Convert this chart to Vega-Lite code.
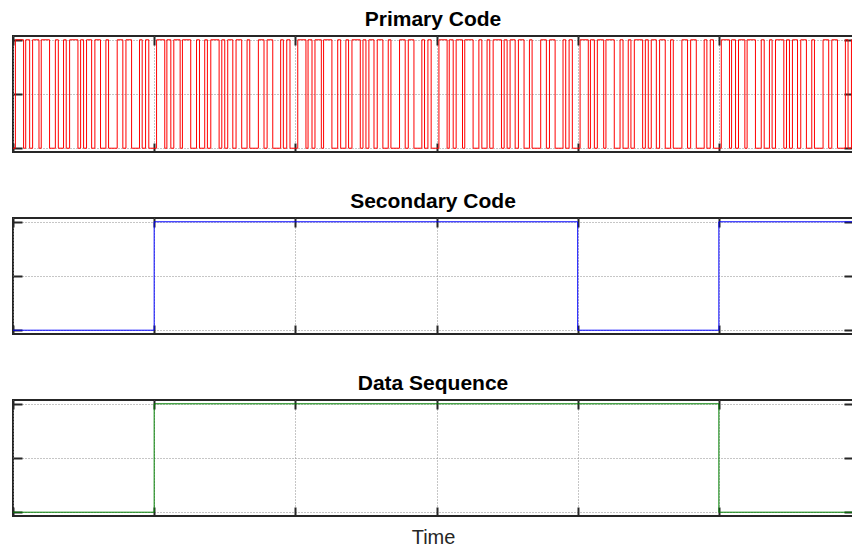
{
  "$schema": "https://vega.github.io/schema/vega-lite/v6.json",
  "padding": {"left": 11, "right": 0, "top": 8, "bottom": 0},
  "autosize": {"type": "pad"},
  "background": "white",
  "config": {
    "font": "Liberation Sans",
    "view": {"stroke": "#262626", "strokeWidth": 2},
    "axis": {"labels": false, "domain": false, "tickSize": -9, "tickWidth": 2, "tickColor": "#262626", "gridColor": "#8c8c8c", "gridDash": [1, 2], "gridWidth": 1},
    "title": {"font": "Liberation Sans", "fontSize": 21, "fontWeight": "bold", "color": "#000000", "offset": 5}
  },
  "spacing": 36,
  "datasets": {
    "primary": [
      {"t":0,"v":-1},
      {"t":0.017,"v":1},{"t":0.075,"v":-1},{"t":0.09,"v":1},{"t":0.118,"v":-1},{"t":0.139,"v":1},{"t":0.184,"v":-1},{"t":0.2,"v":1},{"t":0.259,"v":-1},{"t":0.3,"v":1},{"t":0.321,"v":-1},{"t":0.358,"v":1},{"t":0.377,"v":-1},{"t":0.401,"v":1},{"t":0.46,"v":-1},{"t":0.479,"v":1},{"t":0.5,"v":-1},{"t":0.521,"v":1},{"t":0.557,"v":-1},{"t":0.58,"v":1},{"t":0.62,"v":-1},{"t":0.658,"v":1},{"t":0.677,"v":-1},{"t":0.738,"v":1},{"t":0.778,"v":-1},{"t":0.8,"v":1},{"t":0.84,"v":-1},{"t":0.896,"v":1},{"t":0.915,"v":-1},{"t":0.939,"v":1},{"t":0.962,"v":-1},
      {"t":1.017,"v":1},{"t":1.075,"v":-1},{"t":1.09,"v":1},{"t":1.118,"v":-1},{"t":1.139,"v":1},{"t":1.184,"v":-1},{"t":1.2,"v":1},{"t":1.259,"v":-1},{"t":1.3,"v":1},{"t":1.321,"v":-1},{"t":1.358,"v":1},{"t":1.377,"v":-1},{"t":1.401,"v":1},{"t":1.46,"v":-1},{"t":1.479,"v":1},{"t":1.5,"v":-1},{"t":1.521,"v":1},{"t":1.557,"v":-1},{"t":1.58,"v":1},{"t":1.62,"v":-1},{"t":1.658,"v":1},{"t":1.677,"v":-1},{"t":1.738,"v":1},{"t":1.778,"v":-1},{"t":1.8,"v":1},{"t":1.84,"v":-1},{"t":1.896,"v":1},{"t":1.915,"v":-1},{"t":1.939,"v":1},{"t":1.962,"v":-1},
      {"t":2.017,"v":1},{"t":2.075,"v":-1},{"t":2.09,"v":1},{"t":2.118,"v":-1},{"t":2.139,"v":1},{"t":2.184,"v":-1},{"t":2.2,"v":1},{"t":2.259,"v":-1},{"t":2.3,"v":1},{"t":2.321,"v":-1},{"t":2.358,"v":1},{"t":2.377,"v":-1},{"t":2.401,"v":1},{"t":2.46,"v":-1},{"t":2.479,"v":1},{"t":2.5,"v":-1},{"t":2.521,"v":1},{"t":2.557,"v":-1},{"t":2.58,"v":1},{"t":2.62,"v":-1},{"t":2.658,"v":1},{"t":2.677,"v":-1},{"t":2.738,"v":1},{"t":2.778,"v":-1},{"t":2.8,"v":1},{"t":2.84,"v":-1},{"t":2.896,"v":1},{"t":2.915,"v":-1},{"t":2.939,"v":1},{"t":2.962,"v":-1},
      {"t":3.017,"v":1},{"t":3.075,"v":-1},{"t":3.09,"v":1},{"t":3.118,"v":-1},{"t":3.139,"v":1},{"t":3.184,"v":-1},{"t":3.2,"v":1},{"t":3.259,"v":-1},{"t":3.3,"v":1},{"t":3.321,"v":-1},{"t":3.358,"v":1},{"t":3.377,"v":-1},{"t":3.401,"v":1},{"t":3.46,"v":-1},{"t":3.479,"v":1},{"t":3.5,"v":-1},{"t":3.521,"v":1},{"t":3.557,"v":-1},{"t":3.58,"v":1},{"t":3.62,"v":-1},{"t":3.658,"v":1},{"t":3.677,"v":-1},{"t":3.738,"v":1},{"t":3.778,"v":-1},{"t":3.8,"v":1},{"t":3.84,"v":-1},{"t":3.896,"v":1},{"t":3.915,"v":-1},{"t":3.939,"v":1},{"t":3.962,"v":-1},
      {"t":4.017,"v":1},{"t":4.075,"v":-1},{"t":4.09,"v":1},{"t":4.118,"v":-1},{"t":4.139,"v":1},{"t":4.184,"v":-1},{"t":4.2,"v":1},{"t":4.259,"v":-1},{"t":4.3,"v":1},{"t":4.321,"v":-1},{"t":4.358,"v":1},{"t":4.377,"v":-1},{"t":4.401,"v":1},{"t":4.46,"v":-1},{"t":4.479,"v":1},{"t":4.5,"v":-1},{"t":4.521,"v":1},{"t":4.557,"v":-1},{"t":4.58,"v":1},{"t":4.62,"v":-1},{"t":4.658,"v":1},{"t":4.677,"v":-1},{"t":4.738,"v":1},{"t":4.778,"v":-1},{"t":4.8,"v":1},{"t":4.84,"v":-1},{"t":4.896,"v":1},{"t":4.915,"v":-1},{"t":4.939,"v":1},{"t":4.962,"v":-1},
      {"t":5.017,"v":1},{"t":5.075,"v":-1},{"t":5.09,"v":1},{"t":5.118,"v":-1},{"t":5.139,"v":1},{"t":5.184,"v":-1},{"t":5.2,"v":1},{"t":5.259,"v":-1},{"t":5.3,"v":1},{"t":5.321,"v":-1},{"t":5.358,"v":1},{"t":5.377,"v":-1},{"t":5.401,"v":1},{"t":5.46,"v":-1},{"t":5.479,"v":1},{"t":5.5,"v":-1},{"t":5.521,"v":1},{"t":5.557,"v":-1},{"t":5.58,"v":1},{"t":5.62,"v":-1},{"t":5.658,"v":1},{"t":5.677,"v":-1},{"t":5.738,"v":1},{"t":5.778,"v":-1},{"t":5.8,"v":1},{"t":5.84,"v":-1},{"t":5.896,"v":1},{"t":5.915,"v":-1},{"t":5.939,"v":1},{"t":5.95,"v":1}
    ],
    "secondary": [
      {"t":0,"v":-1},{"t":1,"v":1},{"t":4,"v":-1},{"t":5,"v":1},{"t":5.95,"v":1}
    ],
    "dataseq": [
      {"t":0,"v":-1},{"t":1,"v":1},{"t":5,"v":-1},{"t":5.95,"v":-1}
    ]
  },
  "vconcat": [
    {
      "title": "Primary Code",
      "width": 840, "height": 116,
      "data": {"name": "primary"},
      "layer": [
        {"mark": {"type": "line", "interpolate": "step-after", "color": "#ff0000", "strokeWidth": 1, "clip": true},
         "encoding": {
           "x": {"field": "t", "type": "quantitative", "scale": {"domain": [0, 5.95], "nice": false, "zero": false}, "axis": {"orient": "bottom", "values": [0,1,2,3,4,5], "grid": true, "title": null}},
           "y": {"field": "v", "type": "quantitative", "scale": {"domain": [-1.07, 1.07], "nice": false, "zero": false}, "axis": {"orient": "left", "values": [-1,0,1], "grid": true, "title": null}}
         }},
        {"mark": {"type": "line", "opacity": 0},
         "encoding": {
           "x": {"field": "t", "type": "quantitative", "axis": {"orient": "top", "values": [0,1,2,3,4,5], "grid": false, "title": null}},
           "y": {"field": "v", "type": "quantitative", "axis": {"orient": "right", "values": [-1,0,1], "grid": false, "title": null}}
         }}
      ],
      "resolve": {"axis": {"x": "independent", "y": "independent"}}
    },
    {
      "title": "Secondary Code",
      "width": 840, "height": 116,
      "data": {"name": "secondary"},
      "layer": [
        {"mark": {"type": "line", "interpolate": "step-after", "color": "#0000ff", "strokeWidth": 1, "clip": true},
         "encoding": {
           "x": {"field": "t", "type": "quantitative", "scale": {"domain": [0, 5.95], "nice": false, "zero": false}, "axis": {"orient": "bottom", "values": [0,1,2,3,4,5], "grid": true, "title": null}},
           "y": {"field": "v", "type": "quantitative", "scale": {"domain": [-1.07, 1.07], "nice": false, "zero": false}, "axis": {"orient": "left", "values": [-1,0,1], "grid": true, "title": null}}
         }},
        {"mark": {"type": "line", "opacity": 0},
         "encoding": {
           "x": {"field": "t", "type": "quantitative", "axis": {"orient": "top", "values": [0,1,2,3,4,5], "grid": false, "title": null}},
           "y": {"field": "v", "type": "quantitative", "axis": {"orient": "right", "values": [-1,0,1], "grid": false, "title": null}}
         }}
      ],
      "resolve": {"axis": {"x": "independent", "y": "independent"}}
    },
    {
      "title": "Data Sequence",
      "width": 840, "height": 116,
      "data": {"name": "dataseq"},
      "layer": [
        {"mark": {"type": "line", "interpolate": "step-after", "color": "#008000", "strokeWidth": 1, "clip": true},
         "encoding": {
           "x": {"field": "t", "type": "quantitative", "scale": {"domain": [0, 5.95], "nice": false, "zero": false}, "axis": {"orient": "bottom", "values": [0,1,2,3,4,5], "grid": true, "title": "Time", "titleFontSize": 20, "titleFontWeight": "normal", "titleColor": "#262626", "titlePadding": 10}},
           "y": {"field": "v", "type": "quantitative", "scale": {"domain": [-1.07, 1.07], "nice": false, "zero": false}, "axis": {"orient": "left", "values": [-1,0,1], "grid": true, "title": null}}
         }},
        {"mark": {"type": "line", "opacity": 0},
         "encoding": {
           "x": {"field": "t", "type": "quantitative", "axis": {"orient": "top", "values": [0,1,2,3,4,5], "grid": false, "title": null}},
           "y": {"field": "v", "type": "quantitative", "axis": {"orient": "right", "values": [-1,0,1], "grid": false, "title": null}}
         }}
      ],
      "resolve": {"axis": {"x": "independent", "y": "independent"}}
    }
  ]
}
